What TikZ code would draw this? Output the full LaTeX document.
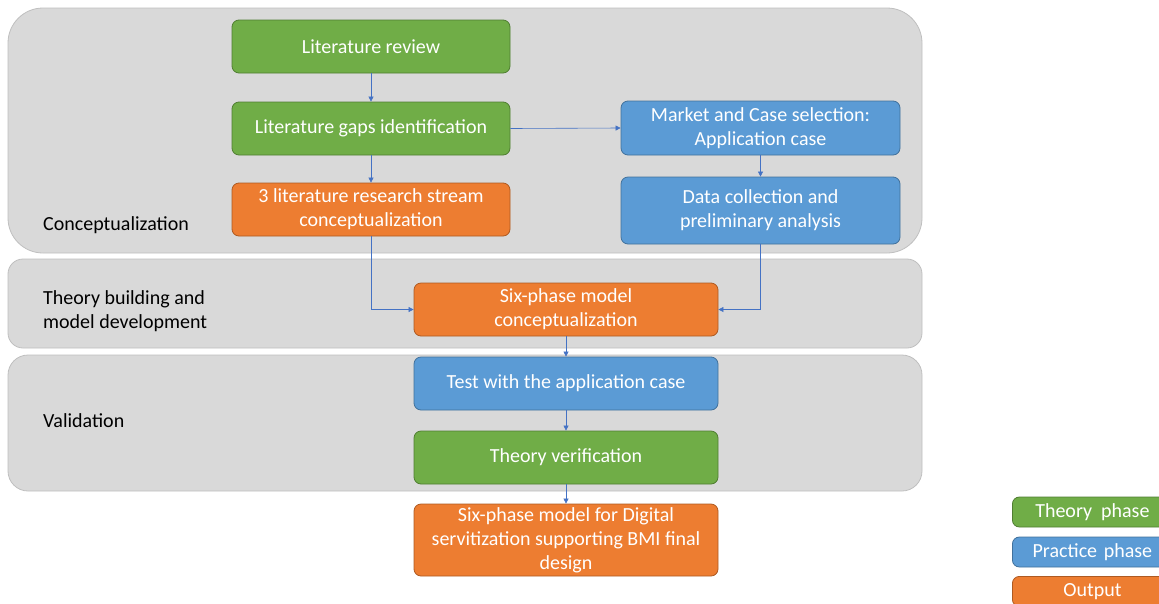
\documentclass[tikz,border=0pt]{standalone}
\usepackage{fontspec}
\setmainfont{Carlito}
\usetikzlibrary{arrows.meta}
\definecolor{bandfill}{HTML}{D9D9D9}
\definecolor{bandline}{HTML}{BFBFBF}
\definecolor{tgreen}{HTML}{70AD47}
\definecolor{tgreenb}{HTML}{507E32}
\definecolor{pblue}{HTML}{5B9BD5}
\definecolor{pblueb}{HTML}{41719C}
\definecolor{oorange}{HTML}{ED7D31}
\definecolor{oorangeb}{HTML}{AE5A21}
\definecolor{arr}{HTML}{4472C4}
\begin{document}
\begin{tikzpicture}[x=1pt,y=-1pt,
  band/.style={fill=bandfill,draw=bandline,line width=0.8pt},
  boxbase/.style={rounded corners=7pt,line width=0.8pt,text=white,align=center,font=\fontsize{20}{24}\selectfont,inner sep=0pt},
  theory/.style={boxbase,fill=tgreen,draw=tgreenb},
  practice/.style={boxbase,fill=pblue,draw=pblueb},
  output/.style={boxbase,fill=oorange,draw=oorangeb},
  lbl/.style={font=\fontsize{20}{24}\selectfont,align=left,anchor=west,inner sep=0pt},
  conn/.style={draw=arr,line width=0.6pt,-{Triangle[length=5pt,width=5pt]}}
]
\useasboundingbox (0,0) rectangle (1159,603);
% bands
\draw[band,rounded corners=35pt] (8,8) rectangle (922,253);
\draw[band,rounded corners=15pt] (8,259) rectangle (922,348);
\draw[band,rounded corners=20pt] (8,355) rectangle (922,491);
% labels
\node[lbl] (lc) at (43,225) {Conceptualization};
\node[lbl] (lt) at (43,311) {Theory building and\\model development};
\node[lbl] (lv) at (43,421) {Validation};
% boxes
\node[theory,minimum width=278pt,minimum height=53pt] (lr) at (371,46.5) {Literature review};
\node[theory,minimum width=278pt,minimum height=53pt] (lg) at (371,128.5) {Literature gaps identification};
\node[output,minimum width=278pt,minimum height=53pt] (ls) at (371,209.5) {3 literature research stream\\conceptualization};
\node[practice,minimum width=279pt,minimum height=54pt] (mc) at (760.5,128) {Market and Case selection:\\Application case};
\node[practice,minimum width=279pt,minimum height=67pt] (dc) at (760.5,210.5) {Data collection and\\preliminary analysis};
\node[output,minimum width=304pt,minimum height=53pt] (sp) at (566,309.5) {Six-phase model\\conceptualization};
\node[practice,minimum width=304pt,minimum height=53pt] (tc) at (566,383.5) {Test with the application case};
\node[theory,minimum width=304pt,minimum height=53pt] (tv) at (566,457.5) {Theory verification};
\node[output,minimum width=304pt,minimum height=72pt] (fd) at (566,540) {Six-phase model for Digital\\servitization supporting BMI final\\design};
% legend
\node[theory,minimum width=160pt,minimum height=30pt,anchor=west,text width=152pt] (lg1) at (1012,512) {Theory\hspace{0.45em}phase};
\node[practice,minimum width=160pt,minimum height=30pt,anchor=west,text width=152pt] (lg2) at (1012,552) {Practice phase};
\node[output,minimum width=160pt,minimum height=30pt,anchor=north west,text width=152pt] (lg3) at (1012,576) {Output};
% connectors
\draw[conn] (lr.south) -- (lg.north);
\draw[conn] (lg.south) -- (ls.north);
\draw[conn] (lg.east) -- (mc.west);
\draw[conn] (mc.south) -- (dc.north);
\draw[conn] (ls.south) |- (sp.west);
\draw[conn] (dc.south) |- (sp.east);
\draw[conn] (sp.south) -- (tc.north);
\draw[conn] (tc.south) -- (tv.north);
\draw[conn] (tv.south) -- (fd.north);
\end{tikzpicture}
\end{document}
